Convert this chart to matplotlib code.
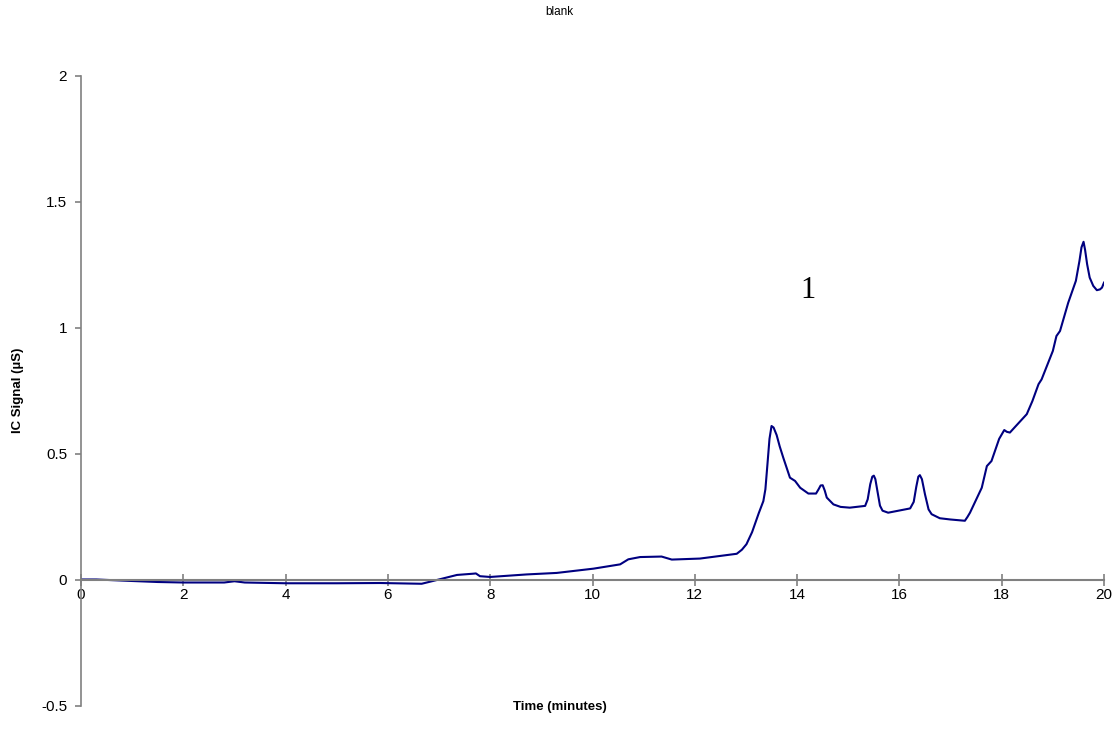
import numpy as np
import matplotlib
matplotlib.use('Agg')
import matplotlib.pyplot as plt

# IC trace of the blank run
time_min = [0.0, 0.3, 1.0, 1.5, 2.0, 2.8, 3.0, 3.2, 4.0, 5.0, 5.85, 6.66, 6.82,
            7.35, 7.67, 7.72, 7.80, 8.0, 8.71, 9.30, 10.02, 10.54, 10.70, 10.93,
            11.35, 11.55, 12.10, 12.82, 12.92, 13.01, 13.12, 13.25, 13.34, 13.38,
            13.42, 13.46, 13.50, 13.54, 13.60, 13.66, 13.73, 13.86, 13.96, 14.06,
            14.22, 14.37, 14.42, 14.46, 14.50, 14.54, 14.58, 14.71, 14.85, 15.03,
            15.33, 15.38, 15.43, 15.47, 15.50, 15.53, 15.57, 15.62, 15.67, 15.78,
            16.21, 16.28, 16.33, 16.37, 16.40, 16.44, 16.50, 16.57, 16.63, 16.79,
            17.00, 17.28, 17.33, 17.38, 17.61, 17.71, 17.80, 17.95, 18.05, 18.10,
            18.16, 18.25, 18.49, 18.60, 18.72, 18.78, 19.00, 19.07, 19.14, 19.30,
            19.45, 19.52, 19.56, 19.60, 19.63, 19.67, 19.72, 19.79, 19.86, 19.92,
            19.96, 20.0]
signal_us = [0.002, 0.002, -0.004, -0.008, -0.010, -0.010, -0.005, -0.010, -0.013,
             -0.013, -0.012, -0.015, -0.007, 0.020, 0.025, 0.026, 0.015, 0.012,
             0.022, 0.028, 0.045, 0.062, 0.082, 0.091, 0.093, 0.081, 0.085, 0.104,
             0.120, 0.142, 0.190, 0.265, 0.313, 0.360, 0.459, 0.560, 0.611, 0.605,
             0.575, 0.530, 0.485, 0.406, 0.393, 0.366, 0.343, 0.343, 0.360, 0.375,
             0.376, 0.355, 0.327, 0.300, 0.290, 0.287, 0.294, 0.320, 0.380, 0.410,
             0.414, 0.400, 0.353, 0.295, 0.275, 0.267, 0.284, 0.310, 0.370, 0.410,
             0.416, 0.400, 0.340, 0.280, 0.261, 0.245, 0.240, 0.235, 0.250, 0.267,
             0.366, 0.452, 0.472, 0.560, 0.595, 0.588, 0.585, 0.605, 0.658, 0.710,
             0.777, 0.796, 0.909, 0.968, 0.988, 1.100, 1.187, 1.266, 1.320, 1.342,
             1.310, 1.253, 1.200, 1.167, 1.150, 1.153, 1.160, 1.180]

x_ticks = [0, 2, 4, 6, 8, 10, 12, 14, 16, 18, 20]
y_ticks = [-0.5, 0, 0.5, 1, 1.5, 2]
y_tick_labels = ['-0.5', '0', '0.5', '1', '1.5', '2']

plt.rcParams['font.family'] = ['Liberation Sans', 'DejaVu Sans']

fig = plt.figure(figsize=(11.19, 7.47), dpi=100)
ax = fig.add_axes([0.0724, 0.0549, 0.9142, 0.8434])

ax.plot(time_min, signal_us, color='#000080', lw=1.5, solid_joinstyle='round')

ax.set_xlim(0, 20)
ax.set_ylim(-0.5, 2)
ax.set_xticks(x_ticks)
ax.set_yticks(y_ticks)
ax.set_yticklabels(y_tick_labels)

axis_grey = '#808080'
for side in ['top', 'right']:
    ax.spines[side].set_visible(False)
ax.spines['bottom'].set_position(('data', 0))
ax.spines['bottom'].set_color(axis_grey)
ax.spines['left'].set_color(axis_grey)
ax.spines['bottom'].set_linewidth(1.5)
ax.spines['left'].set_linewidth(1.2)

ax.tick_params(axis='x', direction='inout', length=8, width=1.2, color=axis_grey,
               labelsize=11, pad=2)
ax.tick_params(axis='y', direction='out', length=4, width=1.2, color=axis_grey,
               labelsize=11, pad=6)

ax.text(14.21, 1.147, '1', family='Liberation Serif', fontsize=22,
        ha='center', va='center')

fig.text(0.5, 0.984, 'blank', ha='center', va='center', fontsize=8.5)
fig.text(0.5, 0.054, 'Time (minutes)', ha='center', va='center',
         fontsize=9.5, fontweight='bold')
fig.text(0.016, 0.477, 'IC Signal (µS)', ha='center', va='center',
         rotation=90, fontsize=9.5, fontweight='bold')

fig.savefig('out.png', dpi=100)
